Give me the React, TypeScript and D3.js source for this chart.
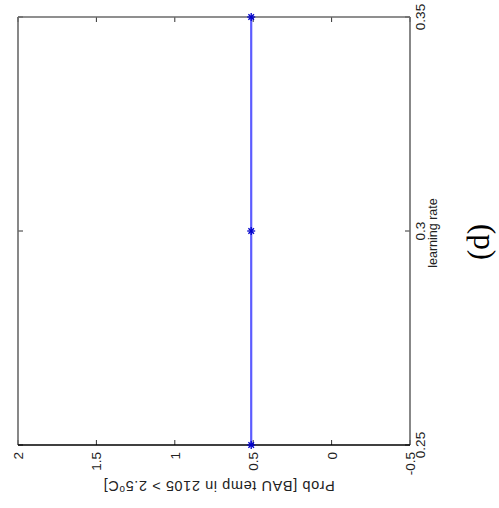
import React from 'react';
import * as d3 from 'd3';

const learningRates = [0.25, 0.3, 0.35];
const probValues = [0.5, 0.5, 0.5];
const rateTicks = [0.25, 0.3, 0.35];
const rateTickLabels = ['0.25', '0.3', '0.35'];
const probTicks = [-0.5, 0, 0.5, 1, 1.5, 2];
const probTickLabels = ['-0.5', '0', '0.5', '1', '1.5', '2'];

const W = 499;
const H = 508;
const left = 18;
const right = 410;
const top = 17;
const bottom = 445;

// figure is rotated 90deg CCW: learning rate runs bottom->top, prob runs right->left
const rateScale = d3.scaleLinear().domain([0.25, 0.35]).range([bottom, top]);
const probScale = d3.scaleLinear().domain([-0.5, 2]).range([right, left]);

const font = 'Arial, "Liberation Sans", Helvetica, sans-serif';

const App = () => {
  const pts = learningRates.map((r, i) => [probScale(probValues[i]) - 2, rateScale(r)] as [number, number]);
  const line = d3.line()(pts) || '';
  const s = 4;

  return (
    <svg width={W} height={H} style={{ position: 'absolute', left: 0, top: 0, background: '#fff' }}>
      <rect x={0} y={0} width={W} height={H} fill="#fff" />

      {/* ticks on top and bottom edges (prob axis) */}
      {probTicks.map((t) => (
        <g key={'p' + t}>
          <line x1={probScale(t)} x2={probScale(t)} y1={top} y2={top + 5} stroke="#333" strokeWidth={1} />
          <line x1={probScale(t)} x2={probScale(t)} y1={bottom} y2={bottom - 5} stroke="#333" strokeWidth={1} />
        </g>
      ))}
      {/* ticks on left and right edges (learning rate axis) */}
      {rateTicks.map((t) => (
        <g key={'r' + t}>
          <line x1={left} x2={left + 5} y1={rateScale(t)} y2={rateScale(t)} stroke="#333" strokeWidth={1} />
          <line x1={right} x2={right - 5} y1={rateScale(t)} y2={rateScale(t)} stroke="#333" strokeWidth={1} />
        </g>
      ))}

      {/* axes box */}
      <line x1={left} x2={right} y1={top} y2={top} stroke="#6a6a6a" strokeWidth={1.6} />
      <line x1={left} x2={left} y1={top} y2={bottom} stroke="#6a6a6a" strokeWidth={1.6} />
      <line x1={right} x2={right} y1={top} y2={bottom} stroke="#6a6a6a" strokeWidth={1.6} />
      <line x1={left} x2={right} y1={bottom} y2={bottom} stroke="#000" strokeWidth={1.6} />

      {/* data */}
      <path d={line} fill="none" stroke="#5c5cff" strokeWidth={2.2} />
      {pts.map(([x, y], i) => (
        <g key={'m' + i} stroke="#0000cc" strokeWidth={1.3}>
          <line x1={x - s} x2={x + s} y1={y} y2={y} />
          <line x1={x} x2={x} y1={y - s} y2={y + s} />
          <line x1={x - s * 0.7} x2={x + s * 0.7} y1={y - s * 0.7} y2={y + s * 0.7} />
          <line x1={x - s * 0.7} x2={x + s * 0.7} y1={y + s * 0.7} y2={y - s * 0.7} />
        </g>
      ))}

      {/* prob tick labels (below, reading upward) */}
      {probTicks.map((t, i) => (
        <text
          key={'pl' + t}
          transform={`translate(${probScale(t) + 5},${bottom + 7}) rotate(-90)`}
          textAnchor="end"
          fontFamily={font}
          fontSize={13.5}
          fill="#222"
        >
          {probTickLabels[i]}
        </text>
      ))}

      {/* learning rate tick labels (right, reading upward) */}
      {rateTicks.map((t, i) => (
        <text
          key={'rl' + t}
          transform={`translate(${right + 15},${rateScale(t)}) rotate(-90)`}
          textAnchor="middle"
          fontFamily={font}
          fontSize={13.5}
          fill="#222"
        >
          {rateTickLabels[i]}
        </text>
      ))}

      <text
        transform={`translate(${right + 27},${rateScale(0.3) + 2}) rotate(-90)`}
        textAnchor="middle"
        fontFamily={font}
        fontSize={12.5}
        fill="#222"
      >
        learning rate
      </text>

      <text
        transform={`translate(219,481) rotate(180)`}
        textAnchor="middle"
        fontFamily={font}
        fontSize={14.5}
        letterSpacing={0.6}
        fill="#222"
      >
        Prob [BAU temp in 2105 &gt; 2.5
        <tspan fontSize={10} dy={-5}>o</tspan>
        <tspan dy={5}>C]</tspan>
      </text>

      <text
        transform={`translate(489,242) rotate(-90)`}
        textAnchor="middle"
        fontFamily='"Times New Roman", "Liberation Serif", serif'
        fontSize={31}
        fill="#000"
      >
        (d)
      </text>
    </svg>
  );
};

export default App;
